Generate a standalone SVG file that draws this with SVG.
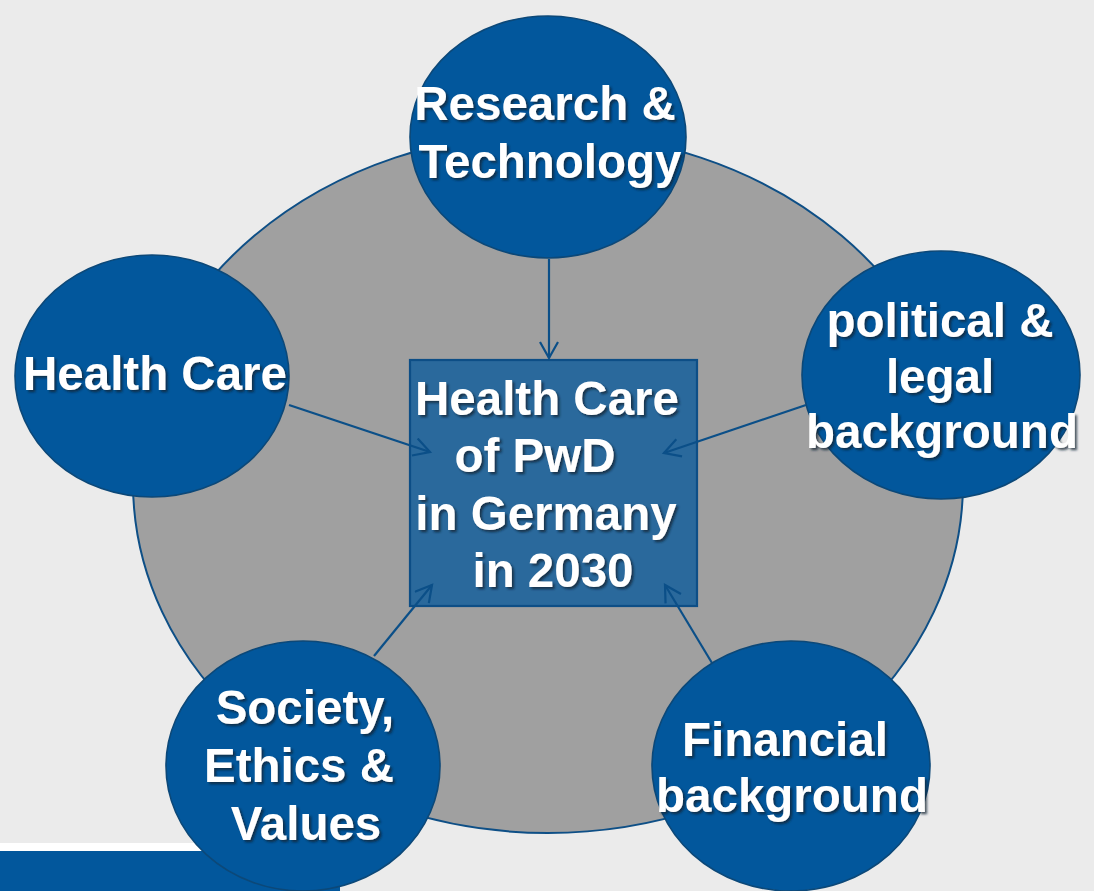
<svg xmlns="http://www.w3.org/2000/svg" width="1094" height="891" viewBox="0 0 1094 891">
  <style>
    .bg { fill: #ebebeb; }
    .ring { fill: #a0a0a0; stroke: #0e4f86; stroke-width: 2; }
    .topic { fill: #02579c; stroke: #0c4878; stroke-width: 1.6; }
    .core { fill: #2a699c; stroke: #0d4e86; stroke-width: 2.2; }
    .link { stroke: #0b4f88; stroke-width: 2.2; fill: none; marker-end: url(#open-arrow); }
    .label { font-family: "Liberation Sans", Arial, sans-serif; font-weight: bold; font-size: 47.5px; fill: #ffffff; text-anchor: middle; filter: url(#text-shadow); }
  </style>
  <defs>
    <marker id="open-arrow" markerUnits="userSpaceOnUse" markerWidth="24" markerHeight="24" refX="17" refY="10" orient="auto">
      <path d="M1,1 L17,10 L1,19" fill="none" stroke="#0b4f88" stroke-width="2.2"/>
    </marker>
    <filter id="text-shadow" x="-10%" y="-20%" width="120%" height="150%">
      <feDropShadow dx="2.2" dy="2.2" stdDeviation="1" flood-color="#102030" flood-opacity="0.75"/>
    </filter>
  </defs>

  <!-- slide background and footer -->
  <rect class="bg" x="0" y="0" width="1094" height="891"/>
  <rect x="0" y="843" width="340" height="8" fill="#ffffff"/>
  <rect x="0" y="851" width="340" height="40" fill="#02579c"/>

  <!-- surrounding ring -->
  <ellipse class="ring" cx="548" cy="483" rx="415" ry="350"/>

  <!-- central topic -->
  <g id="node-center">
    <rect class="core" x="410" y="360" width="287" height="246"/>
    <text class="label" x="547" y="415">Health Care</text>
    <text class="label" x="535" y="472">of PwD</text>
    <text class="label" x="546" y="530">in Germany</text>
    <text class="label" x="553" y="587">in 2030</text>
  </g>

  <!-- influence arrows -->
  <g id="connectors">
    <line class="link" x1="549" y1="259" x2="549" y2="358"/>
    <line class="link" x1="289" y1="405" x2="430" y2="452"/>
    <line class="link" x1="806" y1="405" x2="664" y2="453"/>
    <line class="link" x1="374" y1="656" x2="432" y2="585"/>
    <line class="link" x1="712" y1="663" x2="665" y2="585"/>
  </g>

  <!-- surrounding factors -->
  <g id="node-research">
    <ellipse class="topic" cx="548" cy="137" rx="138" ry="121"/>
    <text class="label" x="545" y="120">Research &amp;</text>
    <text class="label" x="550" y="178">Technology</text>
  </g>

  <g id="node-healthcare">
    <ellipse class="topic" cx="152" cy="376" rx="137" ry="121"/>
    <text class="label" x="155" y="390">Health Care</text>
  </g>

  <g id="node-political">
    <ellipse class="topic" cx="941" cy="375" rx="139" ry="124"/>
    <text class="label" x="940" y="337">political &amp;</text>
    <text class="label" x="940" y="393">legal</text>
    <text class="label" x="942" y="448">background</text>
  </g>

  <g id="node-society">
    <ellipse class="topic" cx="303" cy="766" rx="137" ry="125"/>
    <text class="label" x="305" y="724">Society,</text>
    <text class="label" x="299" y="782">Ethics &amp;</text>
    <text class="label" x="306" y="840">Values</text>
  </g>

  <g id="node-financial">
    <ellipse class="topic" cx="791" cy="766" rx="139" ry="125"/>
    <text class="label" x="785" y="756">Financial</text>
    <text class="label" x="792" y="812">background</text>
  </g>
</svg>
